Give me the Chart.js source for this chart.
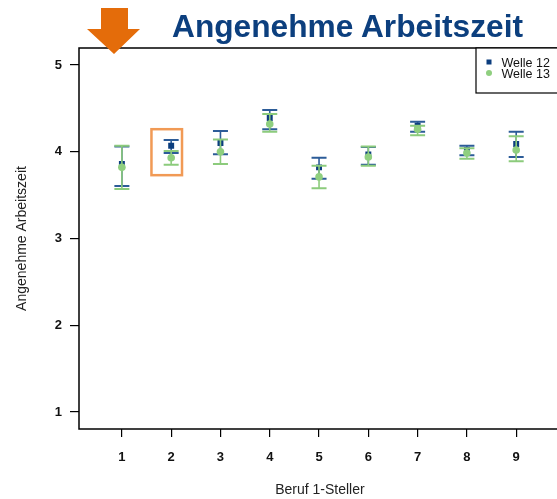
<!DOCTYPE html>
<html>
<head>
<meta charset="utf-8">
<script src="https://cdn.jsdelivr.net/npm/chart.js@4.4.1/dist/chart.umd.min.js"></script>
<style>
  html, body { margin: 0; padding: 0; background: #fff; overflow: hidden; width: 557px; height: 499px; }
  #wrap { position: relative; width: 565px; height: 499px; }
  #c { position: absolute; left: 0; top: 0; }
  #ov { position: absolute; left: 0; top: 0; pointer-events: none; }
</style>
</head>
<body>
<div id="wrap">
  <canvas id="c" width="565" height="499"></canvas>
  <svg id="ov" width="565" height="499">
    <polygon points="101,8 128,8 128,29 140,29 114,54 87,29 101,29" fill="#e46c0a"/>
    <text x="172" y="37" font-family="Liberation Sans, Arial, sans-serif" font-weight="bold" font-size="31" fill="#0c3f7e" textLength="351" lengthAdjust="spacingAndGlyphs">Angenehme Arbeitszeit</text>
  </svg>
</div>
<script>
const categories = [1, 2, 3, 4, 5, 6, 7, 8, 9];
const seriesNames = ['Welle 12', 'Welle 13'];
const welle12Mean = [3.86, 4.07, 4.10, 4.39, 3.82, 3.97, 4.30, 4.02, 4.09];
const welle12Low  = [3.605, 3.985, 3.97, 4.26, 3.69, 3.85, 4.23, 3.96, 3.94];
const welle12High = [4.06, 4.135, 4.24, 4.48, 3.93, 4.055, 4.345, 4.07, 4.23];
const welle13Mean = [3.82, 3.93, 4.00, 4.32, 3.71, 3.94, 4.26, 3.985, 4.02];
const welle13Low  = [3.57, 3.85, 3.86, 4.23, 3.58, 3.84, 4.19, 3.92, 3.89];
const welle13High = [4.07, 4.01, 4.14, 4.435, 3.84, 4.06, 4.30, 4.04, 4.18];
const xTicks = [1, 2, 3, 4, 5, 6, 7, 8, 9];
const yTicks = [1, 2, 3, 4, 5];
const highlightCategory = 2;

const BLUE = '#0b3d7e', BLUE_LINE = '#2c5c98';
const GREEN = '#8fcf7f', GREEN_LINE = '#8ccb7c';

const errLow = [welle12Low, welle13Low];
const errHigh = [welle12High, welle13High];
const errColor = [BLUE_LINE, GREEN_LINE];

const errorBarPlugin = {
  id: 'errorBars',
  beforeDatasetDraw(chart, args) {
    const i = args.index;
    const xs = chart.scales.x, ys = chart.scales.y;
    const ctx = chart.ctx;
    ctx.save();
    ctx.strokeStyle = errColor[i];
    categories.forEach((c, k) => {
      const px = xs.getPixelForValue(c);
      const pl = ys.getPixelForValue(errLow[i][k]);
      const ph = ys.getPixelForValue(errHigh[i][k]);
      ctx.lineWidth = 1.6;
      ctx.beginPath(); ctx.moveTo(px, pl); ctx.lineTo(px, ph); ctx.stroke();
      ctx.lineWidth = 2;
      ctx.beginPath();
      ctx.moveTo(px - 7.5, pl); ctx.lineTo(px + 7.5, pl);
      ctx.moveTo(px - 7.5, ph); ctx.lineTo(px + 7.5, ph);
      ctx.stroke();
    });
    ctx.restore();
  }
};

const framePlugin = {
  id: 'frame',
  afterDraw(chart) {
    const {ctx, chartArea: a} = chart;
    const xs = chart.scales.x, ys = chart.scales.y;
    ctx.save();
    ctx.strokeStyle = '#000'; ctx.lineWidth = 1.5;
    ctx.strokeRect(a.left, a.top, a.right - a.left + 20, a.bottom - a.top);
    const hx1 = xs.getPixelForValue(highlightCategory - 0.40);
    const hx2 = xs.getPixelForValue(highlightCategory + 0.22);
    const hy1 = ys.getPixelForValue(4.26);
    const hy2 = ys.getPixelForValue(3.73);
    ctx.strokeStyle = '#f19a55'; ctx.lineWidth = 2.5;
    ctx.strokeRect(hx1, hy1, hx2 - hx1, hy2 - hy1);
    ctx.fillStyle = '#fff';
    ctx.fillRect(476, a.top, 120, 45);
    ctx.strokeStyle = '#000'; ctx.lineWidth = 1.2;
    ctx.strokeRect(476, a.top, 120, 45);
    ctx.fillStyle = BLUE;
    ctx.fillRect(486.5, 59.5, 5, 5);
    ctx.fillStyle = GREEN;
    ctx.beginPath(); ctx.arc(489, 73, 3, 0, Math.PI * 2); ctx.fill();
    ctx.fillStyle = '#111';
    ctx.font = '12.5px "Liberation Sans", Arial, sans-serif';
    ctx.textBaseline = 'alphabetic';
    ctx.fillText(seriesNames[0], 501.5, 67);
    ctx.fillText(seriesNames[1], 501.5, 78.3);
    ctx.restore();
  }
};

const tickFont = { family: '"Liberation Sans", Arial, sans-serif', size: 13, weight: 'bold' };
const titleFont = { family: '"Liberation Sans", Arial, sans-serif', size: 14 };

new Chart(document.getElementById('c'), {
  type: 'scatter',
  data: {
    datasets: [
      {
        label: seriesNames[0], order: 1,
        data: categories.map((c, k) => ({ x: c, y: welle12Mean[k] })),
        pointStyle: 'rect', pointRadius: 4.2, backgroundColor: BLUE, borderColor: BLUE, borderWidth: 0
      },
      {
        label: seriesNames[1], order: 0,
        data: categories.map((c, k) => ({ x: c, y: welle13Mean[k] })),
        pointStyle: 'circle', pointRadius: 3.8, backgroundColor: GREEN, borderColor: GREEN, borderWidth: 0
      }
    ]
  },
  options: {
    responsive: false,
    animation: false,
    layout: { padding: { top: 48, left: 0, right: 0, bottom: 0 } },
    plugins: { legend: { display: false }, title: { display: false }, tooltip: { enabled: false } },
    scales: {
      x: {
        type: 'linear', min: 0.13, max: 9.905,
        afterBuildTicks: s => { s.ticks = xTicks.map(v => ({ value: v })); },
        afterFit: s => { s.height = 70; },
        grid: { drawOnChartArea: false, drawTicks: true, tickLength: 8, color: '#000', lineWidth: 1.2 },
        border: { display: false },
        ticks: { font: tickFont, color: '#111', padding: 13, maxRotation: 0, autoSkip: false },
        title: { display: true, text: 'Beruf 1-Steller', font: titleFont, color: '#222', padding: { top: 0, bottom: 0 } }
      },
      y: {
        type: 'linear', min: 0.804, max: 5.196,
        afterBuildTicks: s => { s.ticks = yTicks.map(v => ({ value: v })); },
        afterFit: s => { s.width = 79; },
        grid: { drawOnChartArea: false, drawTicks: true, tickLength: 9, color: '#000', lineWidth: 1.2 },
        border: { display: false },
        ticks: { font: tickFont, color: '#111', padding: 8, autoSkip: false },
        title: { display: true, text: 'Angenehme Arbeitszeit', font: titleFont, color: '#222', padding: { top: 13.5, bottom: 0 } }
      }
    }
  },
  plugins: [errorBarPlugin, framePlugin]
});
</script>
</body>
</html>
